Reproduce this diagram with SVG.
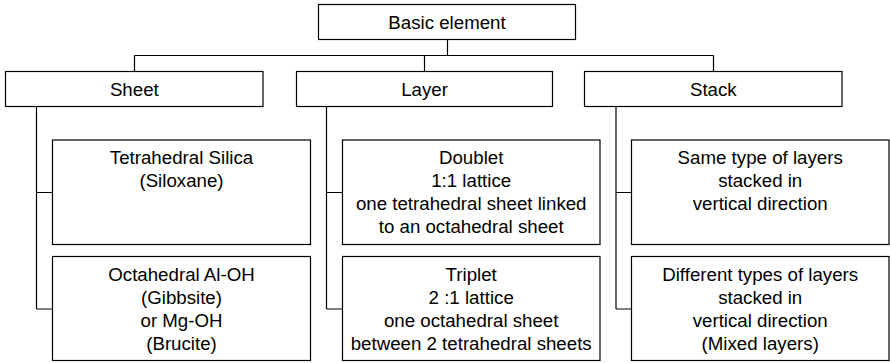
<svg xmlns="http://www.w3.org/2000/svg" width="890" height="363" viewBox="0 0 890 363">
  <style>
    .box { fill: #ffffff; stroke: #000000; stroke-width: 1.2; }
    .wire { fill: none; stroke: #000000; stroke-width: 1.2; }
    text { font-family: "Liberation Sans", Arial, sans-serif; font-size: 18.7px; fill: #000000; text-anchor: middle; }
  </style>
  <rect width="890" height="363" fill="#ffffff"/>

  <!-- connectors -->
  <g id="connectors">
    <path class="wire" d="M447.5,39.5 V55.5 M134.5,55.5 H713.5 M134.5,55.5 V71.5 M424.5,55.5 V71.5 M713.5,55.5 V71.5"/>
    <path class="wire" d="M36.5,106.5 V309 M36.5,192.5 H52.5 M36.5,309 H52.5"/>
    <path class="wire" d="M326.5,106.5 V309 M326.5,192.5 H342.5 M326.5,309 H342.5"/>
    <path class="wire" d="M616,106.5 V309 M616,192.5 H631.5 M616,309 H631.5"/>
  </g>

  <!-- root -->
  <g id="basic-element">
    <rect class="box" x="318.5" y="4.5" width="257" height="35"/>
    <text x="447" y="28.5">Basic element</text>
  </g>

  <!-- level 1 -->
  <g id="sheet">
    <rect class="box" x="5.5" y="71.5" width="257.5" height="35"/>
    <text x="134.3" y="95.6">Sheet</text>
  </g>
  <g id="layer">
    <rect class="box" x="296.5" y="71.5" width="256" height="35"/>
    <text x="424.5" y="95.6">Layer</text>
  </g>
  <g id="stack">
    <rect class="box" x="584.5" y="71.5" width="257.5" height="35"/>
    <text x="713.3" y="95.6">Stack</text>
  </g>

  <!-- sheet children -->
  <g id="tetrahedral-silica">
    <rect class="box" x="52.5" y="140" width="258" height="104.5"/>
    <text x="181.5" y="163.5">Tetrahedral Silica</text>
    <text x="181.5" y="186.8">(Siloxane)</text>
  </g>
  <g id="octahedral">
    <rect class="box" x="52.5" y="256.5" width="258" height="104"/>
    <text x="181.5" y="280.5">Octahedral Al-OH</text>
    <text x="181.5" y="303.8">(Gibbsite)</text>
    <text x="181.5" y="327.1">or Mg-OH</text>
    <text x="181.5" y="350.4">(Brucite)</text>
  </g>

  <!-- layer children -->
  <g id="doublet">
    <rect class="box" x="342.5" y="140" width="257.5" height="104.5"/>
    <text x="471.2" y="163.5">Doublet</text>
    <text x="471.2" y="186.8">1:1 lattice</text>
    <text x="471.2" y="210.1">one tetrahedral sheet linked</text>
    <text x="471.2" y="233.4">to an octahedral sheet</text>
  </g>
  <g id="triplet">
    <rect class="box" x="342.5" y="256.5" width="257.5" height="104"/>
    <text x="471.2" y="280.5">Triplet</text>
    <text x="471.2" y="303.8">2 :1 lattice</text>
    <text x="471.2" y="327.1">one octahedral sheet</text>
    <text x="471.2" y="350.4">between 2 tetrahedral sheets</text>
  </g>

  <!-- stack children -->
  <g id="same-type">
    <rect class="box" x="631.5" y="140" width="257.5" height="104.5"/>
    <text x="760.2" y="163.5">Same type of layers</text>
    <text x="760.2" y="186.8">stacked in</text>
    <text x="760.2" y="210.1">vertical direction</text>
  </g>
  <g id="different-types">
    <rect class="box" x="631.5" y="256.5" width="257.5" height="104"/>
    <text x="760.2" y="280.5">Different types of layers</text>
    <text x="760.2" y="303.8">stacked in</text>
    <text x="760.2" y="327.1">vertical direction</text>
    <text x="760.2" y="350.4">(Mixed layers)</text>
  </g>
</svg>
